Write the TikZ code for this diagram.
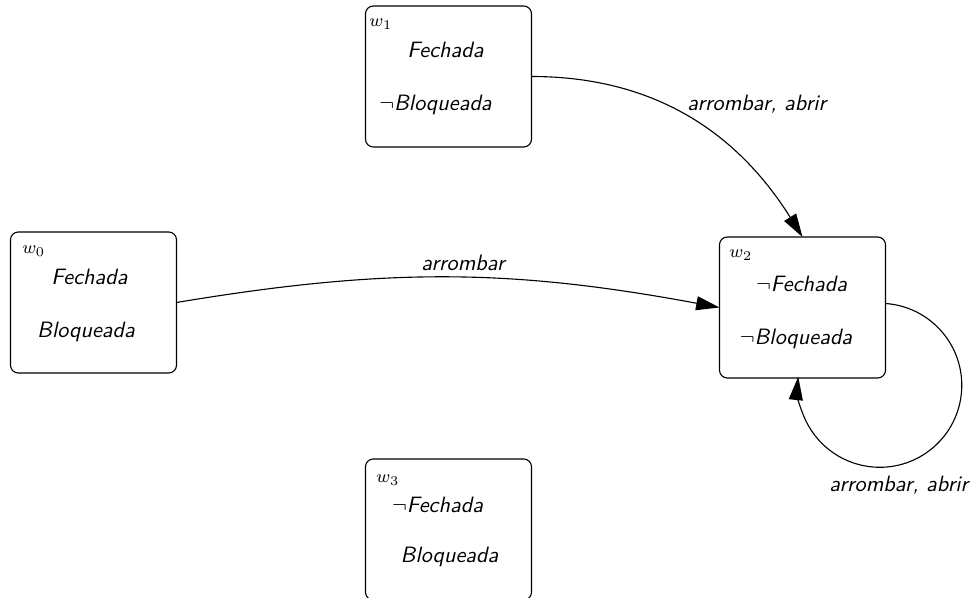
\documentclass[tikz,border=0pt]{standalone}
\usetikzlibrary{arrows.meta}
\begin{document}
\begin{tikzpicture}[x=0.45pt,y=-0.45pt,
  world/.style={draw, line width=0.5pt, rounded corners=3.5pt, minimum width=74.7pt,
    minimum height=63.45pt, inner sep=0pt, outer sep=0pt},
  prop/.style={inner sep=0pt, anchor=base, font=\sffamily\itshape},
  wname/.style={inner sep=0pt, anchor=base west, font=\footnotesize},
  lbl/.style={inner sep=0pt, font=\sffamily\itshape},
  edge/.style={line width=0.5pt, -{Triangle[length=10.5pt,width=6.3pt]}}]
\useasboundingbox (0,0) rectangle (974,598);

% worlds
\node[world] (w1) at (448.5,76.5) {};
\node[world] (w0) at (93.5,302.5) {};
\node[world] (w2) at (802.5,307.5) {};
\node[world] (w3) at (448.5,529.5) {};

% world names
\node[wname] (n1) at (369,27) {$w_1$};
\node[wname] (n0) at (22,254) {$w_0$};
\node[wname] (n2) at (729,258) {$w_2$};
\node[wname] (n3) at (376,483) {$w_3$};

% valuations
\node[prop] (p1a) at (445.5,58) {Fechada};
\node[prop] (p1b) at (435.5,111) {$\neg$Bloqueada};
\node[prop] (p0a) at (89.5,285) {Fechada};
\node[prop] (p0b) at (86,338) {Bloqueada};
\node[prop] (p2a) at (801.5,292) {$\neg$Fechada};
\node[prop] (p2b) at (796,345) {$\neg$Bloqueada};
\node[prop] (p3a) at (437.5,513) {$\neg$Fechada};
\node[prop] (p3b) at (449.5,563) {Bloqueada};

% accessibility relations
\draw[edge] (w0.east) to[bend left=10] (w2.west);
\draw[edge] (w1.east) to[out=0,in=122] (w2.north);
\coordinate (loopstart) at ([yshift=1.8pt]w2.east);
\draw[edge] (loopstart) arc[start angle=86, end angle=-186, radius=36.9pt];

% relation labels
\node[lbl, anchor=base] (l02) at (463,271) {arrombar};
\node[lbl, anchor=base west] (l12) at (687,111) {arrombar, abrir};
\node[lbl, anchor=base west] (l22) at (829,492) {arrombar, abrir};
\end{tikzpicture}
\end{document}
